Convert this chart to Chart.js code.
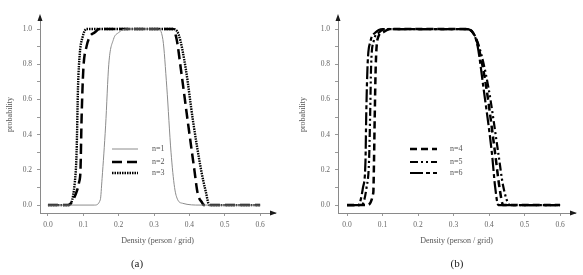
<!DOCTYPE html>
<html>
<head>
<meta charset="utf-8">
<script src="https://cdn.jsdelivr.net/npm/chart.js@4/dist/chart.umd.min.js"></script>
<style>
    html, body { margin: 0; padding: 0; background: #fff; }
    #wrap { position: relative; width: 583px; height: 275px; }
    canvas { position: absolute; top: 0; }
    #graficoA { left: 0; }
    #graficoB { left: 290px; }
</style>
</head>
<body>
<div id="wrap">
    <canvas id="graficoA" width="290" height="275"></canvas>
    <canvas id="graficoB" width="293" height="275"></canvas>
</div>
<script>
// Tick labels
const xTicks = [0, 0.1, 0.2, 0.3, 0.4, 0.5, 0.6];
const yTicks = [0, 0.1, 0.2, 0.3, 0.4, 0.5, 0.6, 0.7, 0.8, 0.9, 1.0];

// Panel (a)
const n1X = [0, 0.132, 0.148, 0.153, 0.163, 0.172, 0.185, 0.200, 0.222, 0.311, 0.325, 0.336, 0.348, 0.358, 0.367, 0.381, 0.430, 0.6];
const n1Y = [0, 0, 0.03, 0.15, 0.45, 0.80, 0.94, 0.98, 1, 1, 0.94, 0.67, 0.30, 0.10, 0.03, 0.01, 0, 0];

const n2X = [0, 0.057, 0.080, 0.088, 0.092, 0.095, 0.100, 0.109, 0.118, 0.132, 0.146, 0.353, 0.364, 0.376, 0.395, 0.414, 0.423, 0.437, 0.440, 0.6];
const n2Y = [0, 0, 0.07, 0.13, 0.20, 0.485, 0.77, 0.90, 0.955, 0.98, 1, 1, 0.94, 0.77, 0.48, 0.20, 0.07, 0.01, 0, 0];

const n3X = [0, 0.057, 0.076, 0.081, 0.085, 0.090, 0.098, 0.109, 0.353, 0.370, 0.390, 0.410, 0.433, 0.447, 0.456, 0.6];
const n3Y = [0, 0, 0.13, 0.30, 0.67, 0.86, 0.955, 1, 1, 0.966, 0.77, 0.48, 0.20, 0.07, 0, 0];

// Panel (b)
const n4X = [0, 0.055, 0.074, 0.076, 0.078, 0.081, 0.088, 0.100, 0.120, 0.337, 0.356, 0.370, 0.392, 0.417, 0.429, 0.440, 0.6];
const n4Y = [0, 0, 0.07, 0.25, 0.50, 0.80, 0.955, 0.98, 1, 1, 0.975, 0.90, 0.67, 0.295, 0.105, 0, 0];

const n5X = [0, 0.041, 0.055, 0.062, 0.065, 0.068, 0.075, 0.090, 0.110, 0.337, 0.356, 0.372, 0.398, 0.426, 0.440, 0.459, 0.6];
const n5Y = [0, 0, 0.10, 0.25, 0.50, 0.80, 0.93, 0.98, 1, 1, 0.975, 0.90, 0.67, 0.295, 0.105, 0, 0];

const n6X = [0, 0.032, 0.045, 0.052, 0.054, 0.058, 0.066, 0.080, 0.100, 0.337, 0.356, 0.368, 0.384, 0.408, 0.417, 0.426, 0.6];
const n6Y = [0, 0, 0.10, 0.25, 0.50, 0.80, 0.93, 0.98, 1, 1, 0.975, 0.90, 0.67, 0.295, 0.105, 0, 0];

const FONTE = "'Liberation Serif', 'DejaVu Serif', serif";

function pontos(xs, ys) {
    return xs.map((x, i) => ({ x: x, y: ys[i] }));
}

function serie(label, xs, ys, cor, largura, traco) {
    return {
        label: label,
        data: pontos(xs, ys),
        borderColor: cor,
        borderWidth: largura,
        borderDash: traco,
        borderCapStyle: 'butt',
        pointRadius: 0,
        cubicInterpolationMode: 'monotone',
        fill: false
    };
}

// Arrows, legend and panel letter
const extrasPlugin = {
    id: 'extras',
    afterDraw(chart, args, opts) {
        const ctx = chart.ctx;
        const area = chart.chartArea;
        ctx.save();

        // arrowheads on the axes
        ctx.fillStyle = '#1a1a1a';
        ctx.beginPath();
        ctx.moveTo(area.right + 2, area.bottom);
        ctx.lineTo(area.right - 5, area.bottom - 2.5);
        ctx.lineTo(area.right - 5, area.bottom + 2.5);
        ctx.closePath();
        ctx.fill();
        ctx.beginPath();
        ctx.moveTo(area.left, area.top - 2);
        ctx.lineTo(area.left - 2.5, area.top + 5);
        ctx.lineTo(area.left + 2.5, area.top + 5);
        ctx.closePath();
        ctx.fill();

        // legend
        const leg = opts.legenda;
        ctx.font = '8px ' + FONTE;
        ctx.textBaseline = 'middle';
        ctx.textAlign = 'left';
        chart.data.datasets.forEach((ds, i) => {
            const y = leg.ys[i];
            ctx.strokeStyle = ds.borderColor;
            ctx.lineWidth = ds.borderWidth;
            ctx.setLineDash(ds.borderDash || []);
            ctx.beginPath();
            ctx.moveTo(leg.x1, y);
            ctx.lineTo(leg.x2, y);
            ctx.stroke();
            ctx.setLineDash([]);
            ctx.fillStyle = '#555';
            ctx.fillText(ds.label, leg.xTexto, y);
        });

        // panel letter
        ctx.font = '11px ' + FONTE;
        ctx.fillStyle = '#222';
        ctx.textAlign = 'center';
        ctx.fillText(opts.letra.texto, opts.letra.x, opts.letra.y);
        ctx.restore();
    }
};

function criarGrafico(id, datasets, cfg) {
    const ctx = document.getElementById(id);
    return new Chart(ctx, {
        type: 'line',
        data: { datasets: datasets },
        options: {
            responsive: false,
            animation: false,
            layout: {
                padding: { top: 16, right: cfg.padDireita, left: 0, bottom: 0 }
            },
            plugins: {
                legend: { display: false },
                tooltip: { enabled: false },
                extras: { legenda: cfg.legenda, letra: cfg.letra }
            },
            scales: {
                x: {
                    type: 'linear',
                    min: cfg.xMin,
                    max: 0.642,
                    afterBuildTicks: (scale) => { scale.ticks = xTicks.map(v => ({ value: v })); },
                    afterFit: (scale) => { scale.height = 62; },
                    ticks: {
                        autoSkip: false,
                        maxRotation: 0,
                        padding: 5,
                        color: '#666',
                        font: { family: FONTE, size: 7.5 },
                        callback: (v) => Number(v).toFixed(1)
                    },
                    grid: { drawOnChartArea: false, tickLength: 3, color: '#999' },
                    border: { color: '#8a8a8a', width: 1 },
                    title: {
                        display: true,
                        text: 'Density (person / grid)',
                        color: '#555',
                        font: { family: FONTE, size: 8 },
                        padding: { top: 29, bottom: 29 }
                    }
                },
                y: {
                    type: 'linear',
                    min: -0.045,
                    max: 1.074,
                    afterBuildTicks: (scale) => { scale.ticks = yTicks.map(v => ({ value: v })); },
                    afterFit: (scale) => { scale.width = cfg.larguraY; },
                    ticks: {
                        autoSkip: false,
                        padding: 5,
                        color: '#666',
                        font: { family: FONTE, size: 7.5 },
                        callback: (v) => (Math.round(v * 10) % 2 === 0 ? Number(v).toFixed(1) : '')
                    },
                    grid: { drawOnChartArea: false, tickLength: 3, color: '#999' },
                    border: { color: '#8a8a8a', width: 1 },
                    title: {
                        display: true,
                        text: 'probability',
                        color: '#555',
                        font: { family: FONTE, size: 8 },
                        padding: { top: cfg.padTituloY, bottom: cfg.padTituloY }
                    }
                }
            }
        },
        plugins: [extrasPlugin]
    });
}

document.addEventListener('DOMContentLoaded', function() {
    criarGrafico('graficoA', [
        serie('n=1', n1X, n1Y, '#8c8c8c', 1, []),
        serie('n=2', n2X, n2Y, '#000', 2.5, [10, 5]),
        serie('n=3', n3X, n3Y, '#000', 2.4, [1.5, 1])
    ], {
        xMin: -0.0225,
        padDireita: 15,
        larguraY: 40,
        padTituloY: 5,
        legenda: { x1: 112, x2: 138, xTexto: 152, ys: [149, 162, 173] },
        letra: { texto: '(a)', x: 137, y: 264 }
    });

    criarGrafico('graficoB', [
        serie('n=4', n4X, n4Y, '#000', 2.5, [7, 4]),
        serie('n=5', n5X, n5Y, '#000', 2.2, [8, 3, 2, 3, 2, 3]),
        serie('n=6', n6X, n6Y, '#000', 2.2, [13, 3, 4, 3])
    ], {
        xMin: -0.0254,
        padDireita: 8,
        larguraY: 48,
        padTituloY: 8,
        legenda: { x1: 120, x2: 147, xTexto: 160, ys: [149, 162, 173] },
        letra: { texto: '(b)', x: 167, y: 264 }
    });
});
</script>
</body>
</html>
